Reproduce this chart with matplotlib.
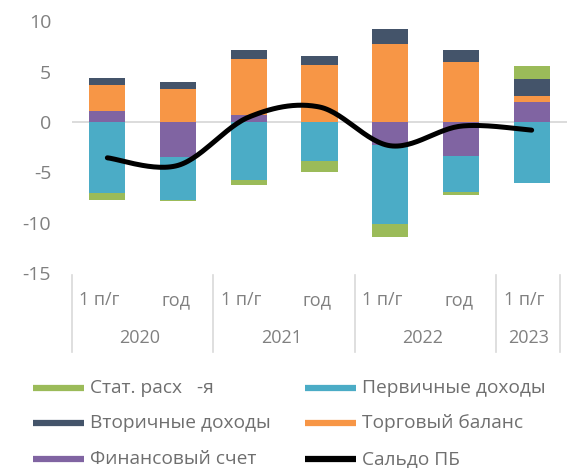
import numpy as np
import matplotlib
matplotlib.use("Agg")
import matplotlib.pyplot as plt
from matplotlib.lines import Line2D

plt.rcParams['font.family'] = ['Open Sans', 'DejaVu Sans']

# Data
periods = ["1 п/г", "год", "1 п/г", "год", "1 п/г", "год", "1 п/г"]
years = ["2020", "2021", "2022", "2023"]
year_spans = [(0, 1), (2, 3), (4, 5), (6, 6)]

fin_account = [1.08, -3.44, 0.72, 0.0, -2.30, -3.38, 2.03]     # Финансовый счет
primary_income = [-7.05, -4.26, -5.74, -3.84, -7.80, -3.57, -6.07]  # Первичные доходы
trade_balance = [2.59, 3.28, 5.51, 5.64, 7.77, 5.97, 0.59]     # Торговый баланс
secondary_income = [0.75, 0.75, 0.92, 0.92, 1.51, 1.18, 1.64]  # Вторичные доходы
stat_discrepancy = [-0.66, -0.16, -0.56, -1.08, -1.28, -0.33, 1.31]  # Стат. расх-я
balance = [-3.55, -4.30, 0.50, 1.50, -2.35, -0.40, -0.80]      # Сальдо ПБ

series = [
    ("Финансовый счет", fin_account, "#8064A2"),
    ("Первичные доходы", primary_income, "#4BACC6"),
    ("Торговый баланс", trade_balance, "#F79646"),
    ("Вторичные доходы", secondary_income, "#44546A"),
    ("Стат. расх   -я", stat_discrepancy, "#9BBB59"),
]

W, H = 567, 468
fig = plt.figure(figsize=(W / 100, H / 100), dpi=100)
ax_left, ax_right, ax_top, ax_bottom = 72, 567, 21.5, 273
ax = fig.add_axes([ax_left / W, (H - ax_bottom) / H,
                   (ax_right - ax_left) / W, (ax_bottom - ax_top) / H])

x = np.arange(len(periods))
bar_w = 0.51

# Stacked bars: positives and negatives are stacked separately
pos_base = np.zeros(len(x))
neg_base = np.zeros(len(x))
for name, vals, color in series:
    v = np.array(vals, dtype=float)
    pos = np.where(v > 0, v, 0)
    neg = np.where(v < 0, v, 0)
    ax.bar(x, pos, bar_w, bottom=pos_base, color=color, linewidth=0, zorder=2)
    ax.bar(x, neg, bar_w, bottom=neg_base, color=color, linewidth=0, zorder=2)
    pos_base += pos
    neg_base += neg

# Zero line
ax.axhline(0, color="#D9D9D9", linewidth=1.3, zorder=1)


# Smoothed balance line (Catmull-Rom through the data points)
def smooth(xs, ys, n=30):
    xs = np.asarray(xs, float)
    ys = np.asarray(ys, float)
    px = np.concatenate([[xs[0]], xs, [xs[-1]]])
    py = np.concatenate([[ys[0]], ys, [ys[-1]]])
    outx, outy = [], []
    for i in range(1, len(px) - 2):
        t = np.linspace(0, 1, n)
        mx0 = (px[i + 1] - px[i - 1]) / 2
        mx1 = (px[i + 2] - px[i]) / 2
        my0 = (py[i + 1] - py[i - 1]) / 2
        my1 = (py[i + 2] - py[i]) / 2
        h00 = 2 * t**3 - 3 * t**2 + 1
        h10 = t**3 - 2 * t**2 + t
        h01 = -2 * t**3 + 3 * t**2
        h11 = t**3 - t**2
        outx.append(h00 * px[i] + h10 * mx0 + h01 * px[i + 1] + h11 * mx1)
        outy.append(h00 * py[i] + h10 * my0 + h01 * py[i + 1] + h11 * my1)
    return np.concatenate(outx), np.concatenate(outy)


sx, sy = smooth(x, balance)
ax.plot(sx, sy, color="black", linewidth=3.6, solid_capstyle="round", zorder=3)

ax.set_xlim(-0.5, 6.5)
ax.set_ylim(-15, 10)
ax.set_yticks([-15, -10, -5, 0, 5, 10])
ax.set_yticklabels(["-15", "-10", "-5", "0", "5", "10"])
ax.tick_params(axis="y", length=0, pad=15, labelsize=14, labelcolor="#808080")
ax.set_xticks([])
for s in ax.spines.values():
    s.set_visible(False)

# Multi-level category axis
ax_h = ax_bottom - ax_top
def ay(py):
    return (ax_bottom - py) / ax_h

trans = ax.get_xaxis_transform()
for xb in [-0.5, 1.5, 3.5, 5.5, 6.40]:
    ax.plot([xb, xb], [ay(275), ay(352)], color="#D9D9D9", linewidth=1.2,
            transform=trans, clip_on=False)
for xi, lab in zip(x, periods):
    shift = -0.11 if lab.startswith("1") else -0.03
    ax.text(xi + shift, ay(300), lab, transform=trans, ha="center", va="center",
            fontsize=13, color="#808080")
for (a, b), yr in zip(year_spans, years):
    ax.text((x[a] + x[b]) / 2 - 0.04, ay(338), yr, transform=trans, ha="center",
            va="center", fontsize=13, color="#808080")

# Legend drawn in figure pixel coordinates
legend_items = [
    ("Стат. расх   -я", "#9BBB59", 33, 388),
    ("Первичные доходы", "#4BACC6", 305, 388),
    ("Вторичные доходы", "#44546A", 33, 423),
    ("Торговый баланс", "#F79646", 305, 423),
    ("Финансовый счет", "#8064A2", 33, 459),
    ("Сальдо ПБ", "black", 305, 459),
]
for label, color, px0, py0 in legend_items:
    yy = (H - py0) / H
    fig.add_artist(Line2D([px0 / W, (px0 + 51) / W], [yy, yy], color=color,
                          linewidth=4.5, solid_capstyle="butt"))
    fig.text((px0 + 57) / W, yy, label, ha="left", va="center",
             fontsize=13.8, color="#6F6F6F")

fig.savefig("out.png", dpi=100)
